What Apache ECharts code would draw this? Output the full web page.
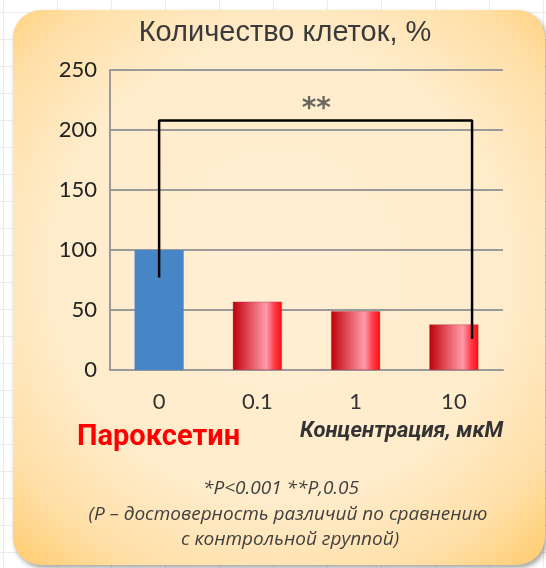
<!DOCTYPE html>
<html>
<head>
<meta charset="utf-8">
<script src="https://cdn.jsdelivr.net/npm/echarts@6/dist/echarts.min.js"></script>
<style>
  html, body { margin: 0; padding: 0; }
  body {
    width: 546px; height: 568px; overflow: hidden;
    background-color: #fff;
    background-image:
      linear-gradient(#ececec 1px, transparent 1px),
      linear-gradient(90deg, #ececec 1px, transparent 1px);
    background-size: 54px 27px, 54px 27px;
    background-position: 0 12px, 3px 0;
  }
  #chart { width: 546px; height: 568px; }
</style>
</head>
<body>
<div id="chart"></div>
<script>
// Concentrations (µM) and cell counts (% of control)
const categories = ['0', '0.1', '1', '10'];
const cellCount = [100, 57, 49, 38];
const yTicks = { min: 0, max: 250, step: 50 };

// Significance bracket: x in category units, y in %
const bracketX = [0, 0, 3.185, 3.185];
const bracketY = [77, 208, 208, 26];
const starMark = { x: 1.6, y: 222, text: '**' };

const chart = echarts.init(document.getElementById('chart'), null, { renderer: 'canvas' });

const redFill = new echarts.graphic.LinearGradient(0, 0, 1, 0, [
  { offset: 0, color: '#BE0008' },
  { offset: 0.35, color: '#E2525E' },
  { offset: 0.68, color: '#FF9BAA' },
  { offset: 0.85, color: '#FF3C4A' },
  { offset: 1, color: '#FF0A0A' }
]);
const blueFill = '#4686C6';

const panelFill = new echarts.graphic.RadialGradient(0.5, 0.47, 0.72, [
  { offset: 0, color: '#FFEFD3' },
  { offset: 0.6, color: '#FFECCB' },
  { offset: 0.85, color: '#FFDFA6' },
  { offset: 1, color: '#FFCF78' }
]);

const noteFont = 'italic 19px "Open Sans", "Noto Sans", sans-serif';

function note(text, cx, cy) {
  return {
    type: 'text', x: cx, y: cy,
    style: { text: text, fill: '#404040', font: noteFont, align: 'center', verticalAlign: 'middle' }
  };
}

const option = {
  animation: false,
  backgroundColor: 'transparent',
  title: {
    text: 'Количество клеток, %',
    left: 280, top: 13, textAlign: 'center',
    textStyle: { fontFamily: 'Liberation Sans, Arial', fontSize: 29, fontWeight: 'normal', color: '#3a3a3a' }
  },
  graphic: [
    {
      type: 'rect', z: -10, silent: true,
      shape: { x: 13, y: 10, width: 532, height: 555, r: 28 },
      style: {
        fill: panelFill,
        shadowBlur: 5, shadowColor: 'rgba(0,0,0,0.35)', shadowOffsetX: 2, shadowOffsetY: 3
      }
    },
    {
      type: 'text', left: 77, top: 423,
      style: { text: 'Пароксетин', fill: '#FF0000', font: 'bold 29px Roboto, "Open Sans", sans-serif' }
    },
    {
      type: 'text', left: 300, top: 420,
      style: { text: 'Концентрация, мкМ', fill: '#333333', font: 'italic bold 22px Roboto, "Open Sans", sans-serif' }
    },
    note('*P<0.001 **P,0.05', 281, 489),
    note('(P – достоверность различий по сравнению', 288, 515),
    note('с контрольной группой)', 290, 540)
  ],
  grid: { left: 110, right: 43, top: 70, bottom: 198, containLabel: false },
  xAxis: [
    {
      type: 'category', data: categories,
      axisLine: { lineStyle: { color: '#9a9a9a', width: 2 } },
      axisTick: { show: false },
      axisLabel: { margin: 21, fontSize: 22, color: '#333', fontFamily: 'Lato, "Open Sans", sans-serif' }
    },
    {
      type: 'value', min: -0.5, max: 3.5, show: false
    }
  ],
  yAxis: {
    type: 'value', min: yTicks.min, max: yTicks.max, interval: yTicks.step,
    axisLine: { show: true, onZero: false, lineStyle: { color: '#9a9a9a', width: 2 } },
    axisTick: { show: false },
    splitLine: { lineStyle: { color: '#9a9a9a', width: 2 } },
    axisLabel: { margin: 13, fontSize: 22, color: '#222', fontFamily: 'Lato, "Open Sans", sans-serif' }
  },
  series: [
    {
      type: 'bar', xAxisIndex: 0, barWidth: '50%',
      data: cellCount.map((v, i) => ({
        value: v,
        itemStyle: i === 0
          ? { color: blueFill }
          : { color: redFill, borderColor: 'rgba(170,40,50,0.6)', borderWidth: 0.6 }
      }))
    },
    {
      type: 'line', xAxisIndex: 1, z: 5,
      data: bracketX.map((x, i) => [x, bracketY[i]]),
      symbol: 'none',
      lineStyle: { color: '#000', width: 2.5 }
    },
    {
      type: 'scatter', xAxisIndex: 1, symbolSize: 0,
      data: [[starMark.x, starMark.y]],
      label: {
        show: true, position: 'inside', formatter: starMark.text, offset: [0, 6],
        fontSize: 28, fontWeight: 'bold', color: '#444', fontFamily: 'DejaVu Sans, sans-serif'
      }
    }
  ]
};
chart.setOption(option);
</script>
</body>
</html>
